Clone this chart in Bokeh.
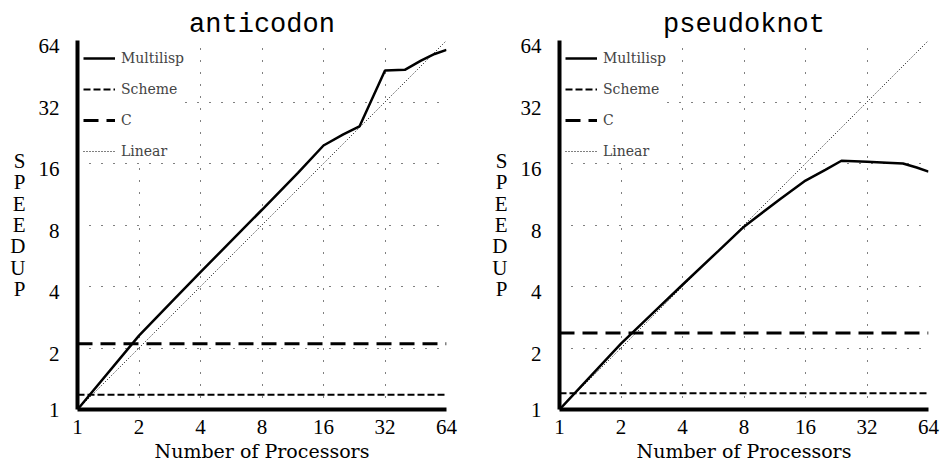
from bokeh.plotting import figure
from bokeh.models import FixedTicker, LogAxis, LogScale, Range1d
from bokeh.layouts import row
from bokeh.embed import file_html
from bokeh.resources import INLINE

# ---- data ----
tick_values = [1, 2, 4, 8, 16, 32, 64]
tick_labels = ["1", "2", "4", "8", "16", "32", "64"]
grid_values = [2, 4, 8, 16, 32, 64]

procs = [1, 2, 3, 4, 6, 8, 12, 16, 20, 24, 32, 40, 48, 56, 64]
anticodon_multilisp = [1, 2.3, 3.5, 4.7, 7.1, 9.5, 14.4, 19.6, 22.2, 24.3, 45.6, 46.0, 51.0, 55.0, 57.6]
pseudoknot_multilisp = [1, 2.1, 3.1, 4.08, 5.98, 7.85, 10.7, 13.2, 14.9, 16.5, 16.3, 16.15, 16.0, 15.3, 14.6]

anticodon_scheme = 1.18
anticodon_c = 2.1
pseudoknot_scheme = 1.2
pseudoknot_c = 2.37

linear_x = [1, 64]
linear_y = [1, 64]

SERIF = "Liberation Serif"
WIDE_SERIF = "DejaVu Serif"

FRAME = 369
LABEL_DROP_PX = 5.5  # y tick labels sit slightly below their ticks


def make_panel(title, multi, scheme, c, width, bl, br):
    p = figure(width=width, height=465, x_axis_type="log", y_axis_type="log",
               y_axis_location=None,
               x_range=(1, 64), y_range=(1, 64), output_backend="svg",
               toolbar_location=None, min_border_left=bl, min_border_right=br,
               min_border_top=40, min_border_bottom=56, title=title)
    p.outline_line_color = None
    p.background_fill_color = "white"

    p.line(procs, multi, line_color="black", line_width=2.5, legend_label="Multilisp")
    p.line([1, 64], [scheme, scheme], line_color="black", line_width=2,
           line_dash="7 3", legend_label="Scheme")
    p.line([1, 64], [c, c], line_color="black", line_width=3,
           line_dash="15 8", legend_label="C")
    p.line(linear_x, linear_y, line_color="black", line_width=1,
           line_dash="1 2", legend_label="Linear")

    # label range shifted so that tick labels hang a few px below the ticks
    f = 2 ** (LABEL_DROP_PX / (FRAME / 6))
    p.extra_y_ranges = {"lab": Range1d(1 * f, 64 * f)}
    p.extra_y_scales = {"lab": LogScale()}
    yax = LogAxis(y_range_name="lab")
    p.add_layout(yax, "left")

    x_over = {v: s for v, s in zip(tick_values, tick_labels)}
    y_ticks = [max(v, 1 * f) for v in tick_values]
    y_over = {v: s for v, s in zip(y_ticks, tick_labels)}
    for ax, ticks, over in ((p.xaxis[0], tick_values, x_over), (yax, y_ticks, y_over)):
        ax.ticker = FixedTicker(ticks=ticks, minor_ticks=[])
        ax.major_label_overrides = over
        ax.axis_line_width = 4
        ax.axis_line_color = "black"
        ax.major_tick_line_color = None
        ax.minor_tick_line_color = None
        ax.major_tick_out = 0
        ax.major_tick_in = 0
        ax.major_label_text_font = SERIF
        ax.major_label_text_font_size = "21px"
        ax.major_label_text_color = "black"

    p.xaxis.major_label_standoff = 10
    yax.major_label_standoff = 18

    p.xaxis.axis_label = "Number of Processors"
    p.xaxis.axis_label_text_font = WIDE_SERIF
    p.xaxis.axis_label_text_font_size = "19px"
    p.xaxis.axis_label_text_font_style = "normal"
    p.xaxis.axis_label_standoff = 3
    p.xaxis.axis_label_text_color = "black"

    yax.axis_label = "S\nP\nE\nE\nD\nU\nP"
    yax.axis_label_orientation = "horizontal"
    yax.axis_label_text_font = SERIF
    yax.axis_label_text_font_size = "21px"
    yax.axis_label_text_font_style = "normal"
    yax.axis_label_text_line_height = 0.89
    yax.axis_label_standoff = 10
    yax.axis_label_text_color = "black"

    for g in (p.xgrid[0], p.ygrid[0]):
        g.ticker = FixedTicker(ticks=grid_values, minor_ticks=[])
        g.grid_line_color = "black"
        g.grid_line_width = 1
        g.grid_line_dash = "1 11"

    p.title.align = "center"
    p.title.text_font = "Liberation Mono"
    p.title.text_font_size = "27px"
    p.title.text_font_style = "normal"
    p.title.text_color = "black"
    p.title.standoff = 2

    lg = p.legend[0]
    lg.location = "top_left"
    lg.border_line_color = None
    lg.background_fill_color = "white"
    lg.background_fill_alpha = 1
    lg.label_text_font = WIDE_SERIF
    lg.label_text_font_size = "14px"
    lg.glyph_width = 32
    lg.glyph_height = 24
    lg.label_height = 24
    lg.spacing = 7
    lg.padding = 6
    lg.margin = 6
    lg.label_standoff = 6
    return p


p1 = make_panel("anticodon", anticodon_multilisp, anticodon_scheme, anticodon_c, 471, 77, 25)
p2 = make_panel("pseudoknot", pseudoknot_multilisp, pseudoknot_scheme, pseudoknot_c, 469, 88, 12)

layout = row(p1, p2)
open("out.html", "w").write(file_html(layout, INLINE))
